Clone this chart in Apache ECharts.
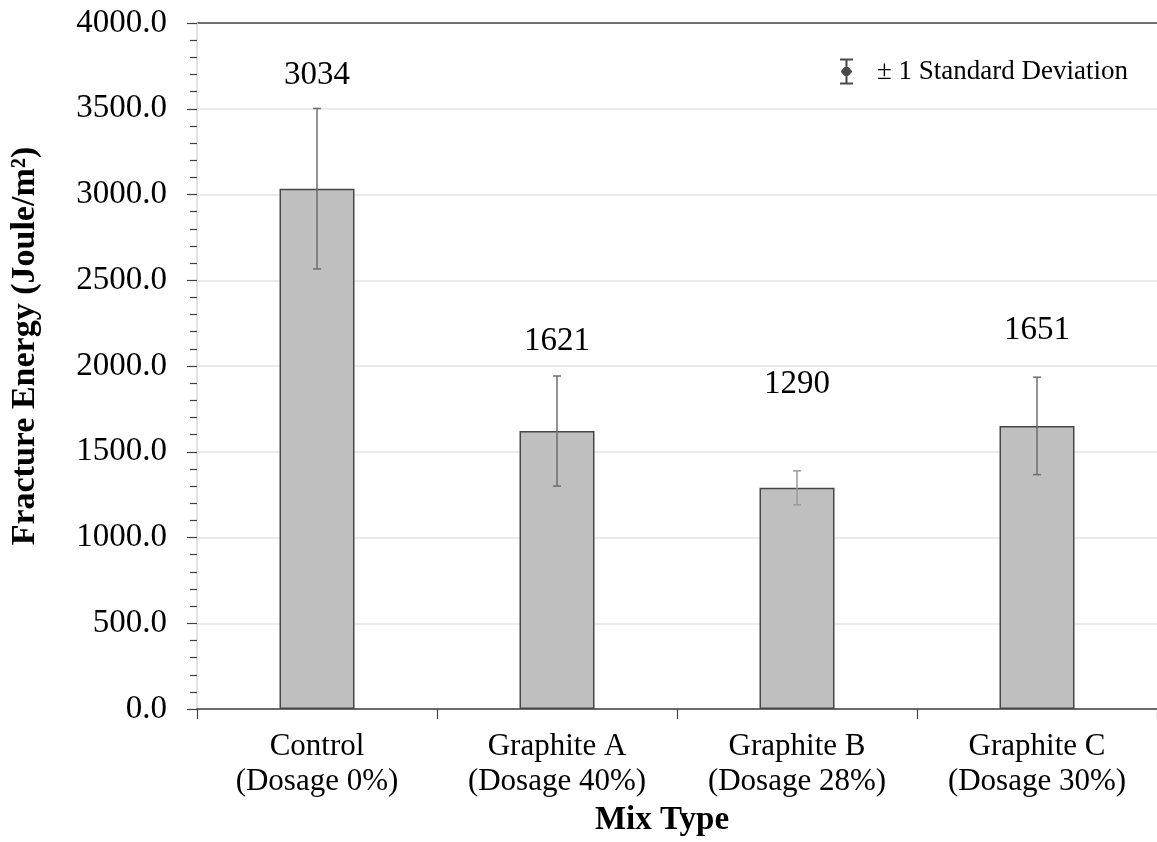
<!DOCTYPE html>
<html>
<head>
<meta charset="utf-8">
<script src="https://cdn.jsdelivr.net/npm/echarts@6/dist/echarts.min.js"></script>
<style>html,body{margin:0;padding:0;background:#fff;}#c{width:1157px;height:842px;}</style>
</head>
<body>
<div id="c"></div>
<script>
var categories = ['Control\n(Dosage 0%)', 'Graphite A\n(Dosage 40%)', 'Graphite B\n(Dosage 28%)', 'Graphite C\n(Dosage 30%)'];
var fractureEnergy = [3034, 1621, 1290, 1651];
var stdDev = [468, 321, 99, 284];
var yTicks = { min: 0, max: 4000, interval: 500 };
var labelLift = [97, 73, 87, 79];

var FONT = '"Liberation Serif", "Times New Roman", serif';
var chart = echarts.init(document.getElementById('c'), null, { renderer: 'canvas' });

var gridColors = [];
for (var i = 0; i < 8; i++) gridColors.push('#e3e3e3');
gridColors.push('#404040');

var option = {
  backgroundColor: '#ffffff',
  animation: false,
  grid: { left: 197, right: 0, top: 23, bottom: 130, containLabel: false },
  legend: {
    show: true,
    right: 24,
    top: 53,
    itemWidth: 15,
    itemHeight: 26,
    data: [{ name: '± 1 Standard Deviation', icon: 'path://M0,0H10V1.6H0Z M4.2,0H5.8V20H4.2Z M0,18.4H10V20H0Z M5,6.4A3.6,3.6 0 1 1 4.99,6.4Z M0.8,9.2H9.2V10.8H0.8Z' }],
    textStyle: { fontFamily: FONT, fontSize: 27, color: '#000', padding: [0, 0, 0, 18] }
  },
  xAxis: {
    type: 'category',
    data: categories,
    name: 'Mix Type',
    nameLocation: 'middle',
    nameGap: 90,
    nameTextStyle: { fontFamily: FONT, fontSize: 33, fontWeight: 'bold', color: '#000', padding: [0, 30, 0, 0] },
    axisLine: { show: true, lineStyle: { color: '#404040', width: 1.5 } },
    axisTick: { show: true, length: 10, lineStyle: { color: '#404040', width: 1.2 } },
    axisLabel: { fontFamily: FONT, fontSize: 31, color: '#000', lineHeight: 35, margin: 20 },
    splitLine: { show: false }
  },
  yAxis: {
    type: 'value',
    min: yTicks.min,
    max: yTicks.max,
    interval: yTicks.interval,
    name: 'Fracture Energy (Joule/m²)',
    nameLocation: 'middle',
    nameGap: 155,
    nameTextStyle: { fontFamily: FONT, fontSize: 34, fontWeight: 'bold', color: '#000', padding: [0, 0, 0, 40] },
    axisLine: { show: true, lineStyle: { color: '#d9d9d9', width: 1.5 } },
    axisTick: { show: true, length: 10, lineStyle: { color: '#404040', width: 1.2 } },
    minorTick: { show: true, splitNumber: 5, length: 7, lineStyle: { color: '#404040', width: 1.2 } },
    axisLabel: { fontFamily: FONT, fontSize: 33, color: '#000', margin: 30, formatter: function (v) { return v.toFixed(1); } },
    splitLine: { show: true, lineStyle: { color: gridColors, width: 1.5 } },
    minorSplitLine: { show: false }
  },
  series: [
    {
      type: 'bar',
      name: 'Fracture Energy',
      barWidth: 75,
      data: fractureEnergy.map(function (v, i) {
        return { value: v, label: { offset: [0, -labelLift[i]] } };
      }),
      itemStyle: { color: '#bfbfbf', borderColor: '#464646', borderWidth: 1.5 },
      label: { show: true, position: 'top', distance: 0, fontFamily: FONT, fontSize: 33, color: '#000' },
      z: 2
    },
    {
      type: 'custom',
      name: '± 1 Standard Deviation',
      itemStyle: { color: '#4a4a4a' },
      data: fractureEnergy.map(function (v, i) { return [i, v, stdDev[i]]; }),
      renderItem: function (params, api) {
        var x = api.value(0), y = api.value(1), s = api.value(2);
        var hi = api.coord([x, y + s]);
        var lo = api.coord([x, y - s]);
        var cap = 4;
        var col = s < 150 ? '#9a9a9a' : '#6e6e6e';
        var st = { stroke: col, lineWidth: 1.5 };
        return {
          type: 'group',
          children: [
            { type: 'line', shape: { x1: hi[0], y1: hi[1], x2: lo[0], y2: lo[1] }, style: st },
            { type: 'line', shape: { x1: hi[0] - cap, y1: hi[1], x2: hi[0] + cap, y2: hi[1] }, style: st },
            { type: 'line', shape: { x1: lo[0] - cap, y1: lo[1], x2: lo[0] + cap, y2: lo[1] }, style: st }
          ]
        };
      },
      z: 5
    }
  ]
};
chart.setOption(option);
</script>
</body>
</html>
